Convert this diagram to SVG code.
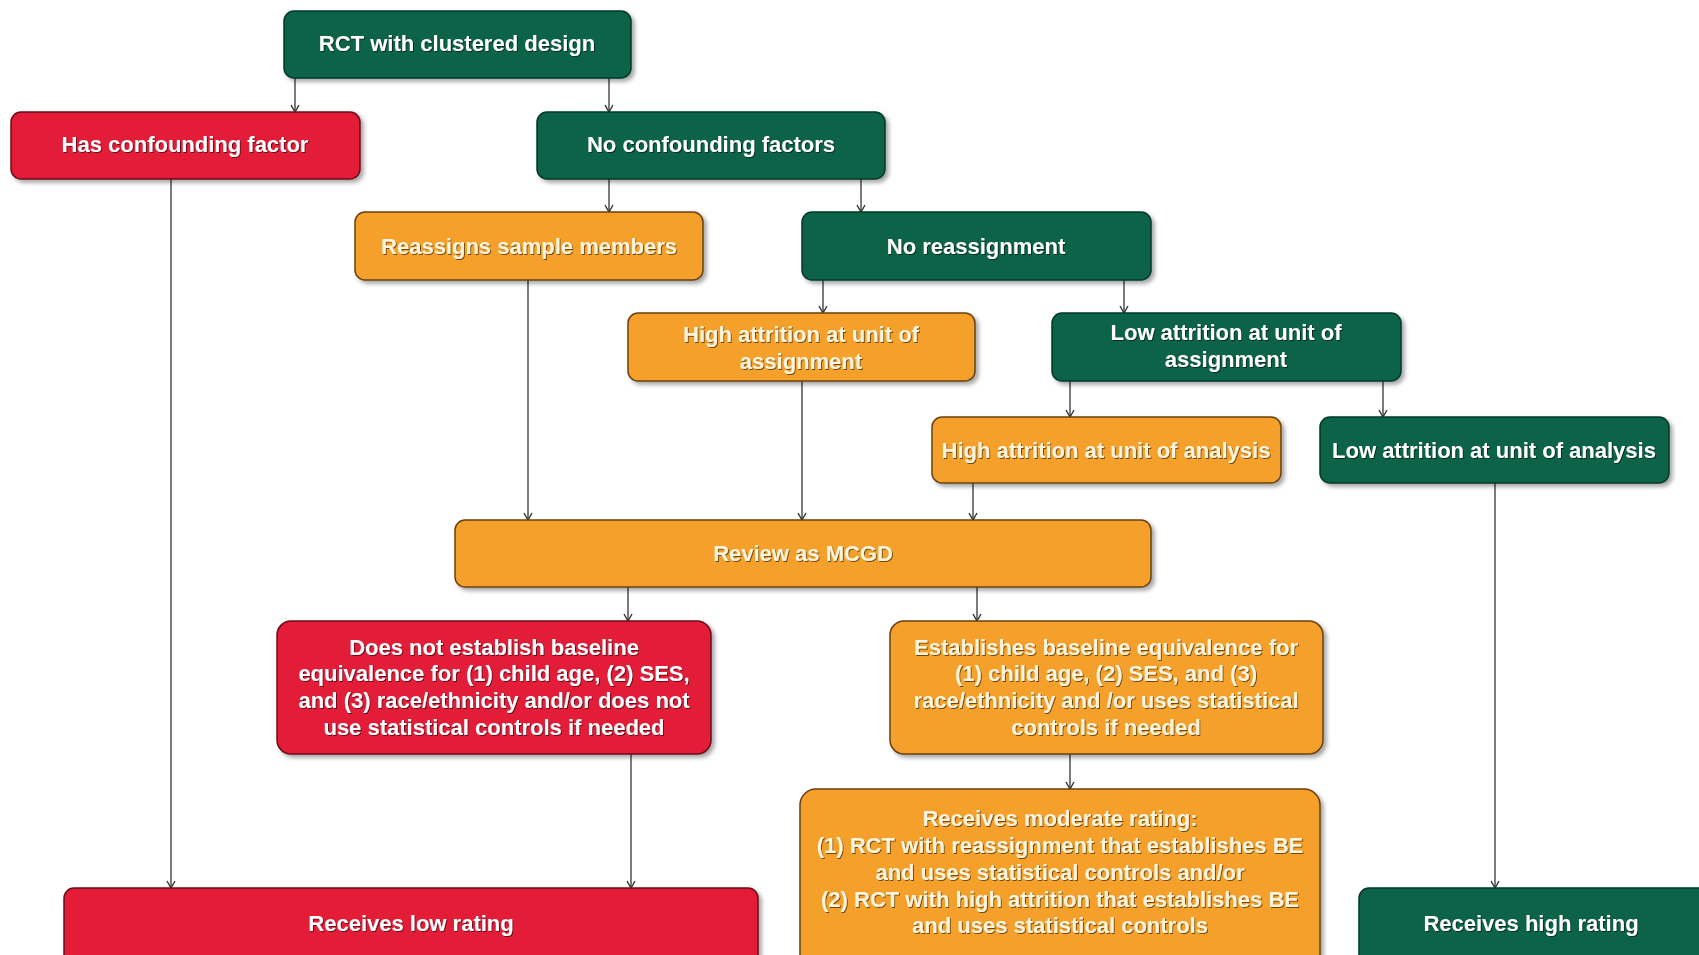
<svg xmlns="http://www.w3.org/2000/svg" width="1699" height="955" viewBox="0 0 1699 955">
<defs>
<filter id="sh" x="-5%" y="-10%" width="115%" height="130%">
<feDropShadow dx="3" dy="3" stdDeviation="2" flood-color="#000" flood-opacity="0.35"/>
</filter>
<filter id="ts" x="-5%" y="-20%" width="110%" height="150%">
<feDropShadow dx="1" dy="1" stdDeviation="0.6" flood-color="#000" flood-opacity="0.55"/>
</filter>
<marker id="ah" viewBox="0 0 10 10" refX="9" refY="5" markerWidth="10" markerHeight="10" markerUnits="userSpaceOnUse" orient="auto">
<path d="M2,1 L9,5 L2,9" fill="none" stroke="#333" stroke-width="1.4"/>
</marker>
</defs>
<style>
.box{stroke-width:1.5;filter:url(#sh)}
.g{fill:#0b6347;stroke:#06382a}
.r{fill:#e31b38;stroke:#6e0d18}
.o{fill:#f4a02a;stroke:#6a4012}
text{font-family:"Liberation Sans",Arial,sans-serif;font-weight:bold;font-size:22px;text-anchor:middle;filter:url(#ts)}
.tw{fill:#ffffff}
.tc{fill:#fff4dc}
.c line{stroke:#333;stroke-width:1.3;marker-end:url(#ah)}
</style>
<rect width="1699" height="955" fill="#ffffff"/>
<g class="c" id="connectors">
<line x1="295" y1="78" x2="295" y2="112"/>
<line x1="609" y1="78" x2="609" y2="112"/>
<line x1="609" y1="179" x2="609" y2="212"/>
<line x1="861" y1="179" x2="861" y2="212"/>
<line x1="823" y1="280" x2="823" y2="313"/>
<line x1="1124" y1="280" x2="1124" y2="313"/>
<line x1="1070" y1="381" x2="1070" y2="417"/>
<line x1="1383" y1="381" x2="1383" y2="417"/>
<line x1="171" y1="179" x2="171" y2="888"/>
<line x1="528" y1="280" x2="528" y2="520"/>
<line x1="802" y1="381" x2="802" y2="520"/>
<line x1="973" y1="483" x2="973" y2="520"/>
<line x1="628" y1="587" x2="628" y2="621"/>
<line x1="977" y1="587" x2="977" y2="621"/>
<line x1="631" y1="754" x2="631" y2="888"/>
<line x1="1070" y1="754" x2="1070" y2="789"/>
<line x1="1495" y1="483" x2="1495" y2="888"/>
</g>
<g id="n-rct"><rect class="box g" x="284" y="11" width="347" height="67" rx="10"/><text class="tw" x="457" y="51">RCT with clustered design</text></g>
<g id="n-hasconf"><rect class="box r" x="11" y="112" width="349" height="67" rx="10"/><text class="tw" x="185" y="152">Has confounding factor</text></g>
<g id="n-noconf"><rect class="box g" x="537" y="112" width="348" height="67" rx="10"/><text class="tw" x="711" y="152">No confounding factors</text></g>
<g id="n-reassign"><rect class="box o" x="355" y="212" width="348" height="68" rx="10"/><text class="tc" x="529" y="254">Reassigns sample members</text></g>
<g id="n-noreassign"><rect class="box g" x="802" y="212" width="349" height="68" rx="10"/><text class="tw" x="976" y="254">No reassignment</text></g>
<g id="n-highassign"><rect class="box o" x="628" y="313" width="347" height="68" rx="10"/><text class="tc" x="801" y="342">High attrition at unit of</text><text class="tc" x="801" y="369">assignment</text></g>
<g id="n-lowassign"><rect class="box g" x="1052" y="313" width="349" height="68" rx="10"/><text class="tw" x="1226" y="340">Low attrition at unit of</text><text class="tw" x="1226" y="367">assignment</text></g>
<g id="n-highanalysis"><rect class="box o" x="932" y="417" width="349" height="66" rx="10"/><text class="tc" x="1106" y="458">High attrition at unit of analysis</text></g>
<g id="n-lowanalysis"><rect class="box g" x="1320" y="417" width="349" height="66" rx="10"/><text class="tw" x="1494" y="458">Low attrition at unit of analysis</text></g>
<g id="n-review"><rect class="box o" x="455" y="520" width="696" height="67" rx="10"/><text class="tc" x="803" y="561">Review as MCGD</text></g>
<g id="n-doesnot"><rect class="box r" x="277" y="621" width="434" height="133" rx="14"/>
<text class="tw" x="494" y="655">Does not establish baseline</text>
<text class="tw" x="494" y="681">equivalence for (1) child age, (2) SES,</text>
<text class="tw" x="494" y="708">and (3) race/ethnicity and/or does not</text>
<text class="tw" x="494" y="735">use statistical controls if needed</text></g>
<g id="n-establishes"><rect class="box o" x="890" y="621" width="433" height="133" rx="14"/>
<text class="tc" x="1106" y="655">Establishes baseline equivalence for</text>
<text class="tc" x="1106" y="681">(1) child age, (2) SES, and (3)</text>
<text class="tc" x="1106" y="708">race/ethnicity and /or uses statistical</text>
<text class="tc" x="1106" y="735">controls if needed</text></g>
<g id="n-moderate"><rect class="box o" x="800" y="789" width="520" height="190" rx="16"/>
<text class="tc" x="1060" y="826">Receives moderate rating:</text>
<text class="tc" x="1060" y="853">(1) RCT with reassignment that establishes BE</text>
<text class="tc" x="1060" y="880">and uses statistical controls and/or</text>
<text class="tc" x="1060" y="907">(2) RCT with high attrition that establishes BE</text>
<text class="tc" x="1060" y="933">and uses statistical controls</text></g>
<g id="n-low"><rect class="box r" x="64" y="888" width="694" height="90" rx="10"/><text class="tw" x="411" y="931">Receives low rating</text></g>
<g id="n-high"><rect class="box g" x="1359" y="888" width="350" height="90" rx="10"/><text class="tw" x="1531" y="931">Receives high rating</text></g>
</svg>
